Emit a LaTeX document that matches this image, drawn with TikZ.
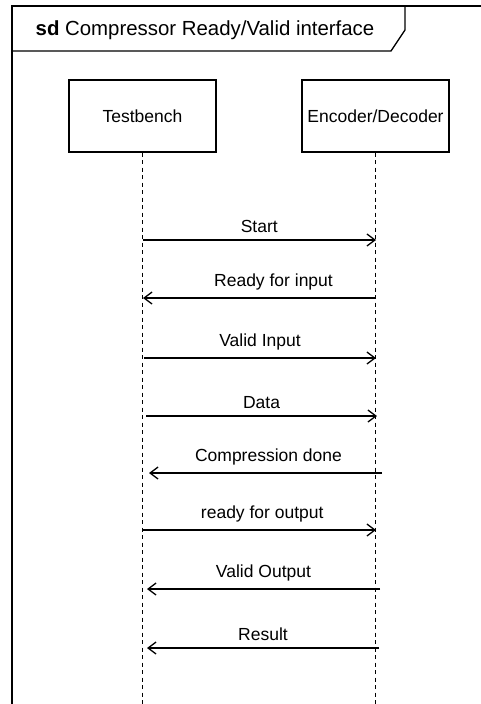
\documentclass[tikz,border=0pt]{standalone}
\usepackage{fontspec}
\setmainfont{Liberation Sans}
\usetikzlibrary{arrows.meta}

\tikzset{
  frameline/.style={line width=1.3pt, black},
  actor/.style={draw, line width=1.3pt, minimum width=147pt, minimum height=72pt,
                inner sep=0pt, font=\fontsize{17.5}{21}\selectfont},
  lifeline/.style={line width=1.2pt, dash pattern=on 4pt off 3.5pt},
  msg/.style={line width=1.3pt, -{Straight Barb[length=8pt,width=12pt,line width=1.3pt]}},
  msglabel/.style={font=\fontsize{17.5}{21}\selectfont, above, inner sep=0pt, yshift=7pt}
}

\begin{document}
\begin{tikzpicture}[x=1pt,y=-1pt]
  \useasboundingbox (0,0) rectangle (480,704);

  % diagram frame with its name tab
  \draw[frameline] (12,710) -- (12,6) -- (486,6);
  \draw[frameline] (405,6) -- (405,30) -- (391,51) -- (12,51);
  \node[anchor=west, inner sep=0pt, font=\fontsize{20.4}{24}\selectfont] (title) at (35.5,30)
    {\textbf{sd} Compressor Ready/Valid interface};

  % participants
  \node[actor] (tb)  at (142.5,116) {Testbench};
  \node[actor] (enc) at (375.5,116) {Encoder/Decoder};

  % lifelines
  \coordinate (tbend)  at (142.5,706);
  \coordinate (encend) at (375.5,706);
  \draw[lifeline] (tb.south) -- (tbend);
  \draw[lifeline] (enc.south) -- (encend);

  % message end points
  \coordinate (s1) at (142.5,240); \coordinate (e1) at (376,240);
  \coordinate (s2) at (376,298);   \coordinate (e2) at (143,298);
  \coordinate (s3) at (144,358);   \coordinate (e3) at (376,358);
  \coordinate (s4) at (146,416);   \coordinate (e4) at (377,416);
  \coordinate (s5) at (382,473);   \coordinate (e5) at (149,473);
  \coordinate (s6) at (142.5,530); \coordinate (e6) at (376,530);
  \coordinate (s7) at (380,589);   \coordinate (e7) at (147,589);
  \coordinate (s8) at (379,648);   \coordinate (e8) at (147,648);

  % messages
  \draw[msg] (s1) -- node[msglabel] (l1) {Start} (e1);
  \draw[msg] (s2) -- node[msglabel, xshift=14pt] (l2) {Ready for input} (e2);
  \draw[msg] (s3) -- node[msglabel] (l3) {Valid Input} (e3);
  \draw[msg] (s4) -- node[msglabel] (l4) {Data} (e4);
  \draw[msg] (s5) -- node[msglabel, xshift=3pt] (l5) {Compression done} (e5);
  \draw[msg] (s6) -- node[msglabel, xshift=3pt] (l6) {ready for output} (e6);
  \draw[msg] (s7) -- node[msglabel] (l7) {Valid Output} (e7);
  \draw[msg] (s8) -- node[msglabel] (l8) {Result} (e8);
\end{tikzpicture}
\end{document}
